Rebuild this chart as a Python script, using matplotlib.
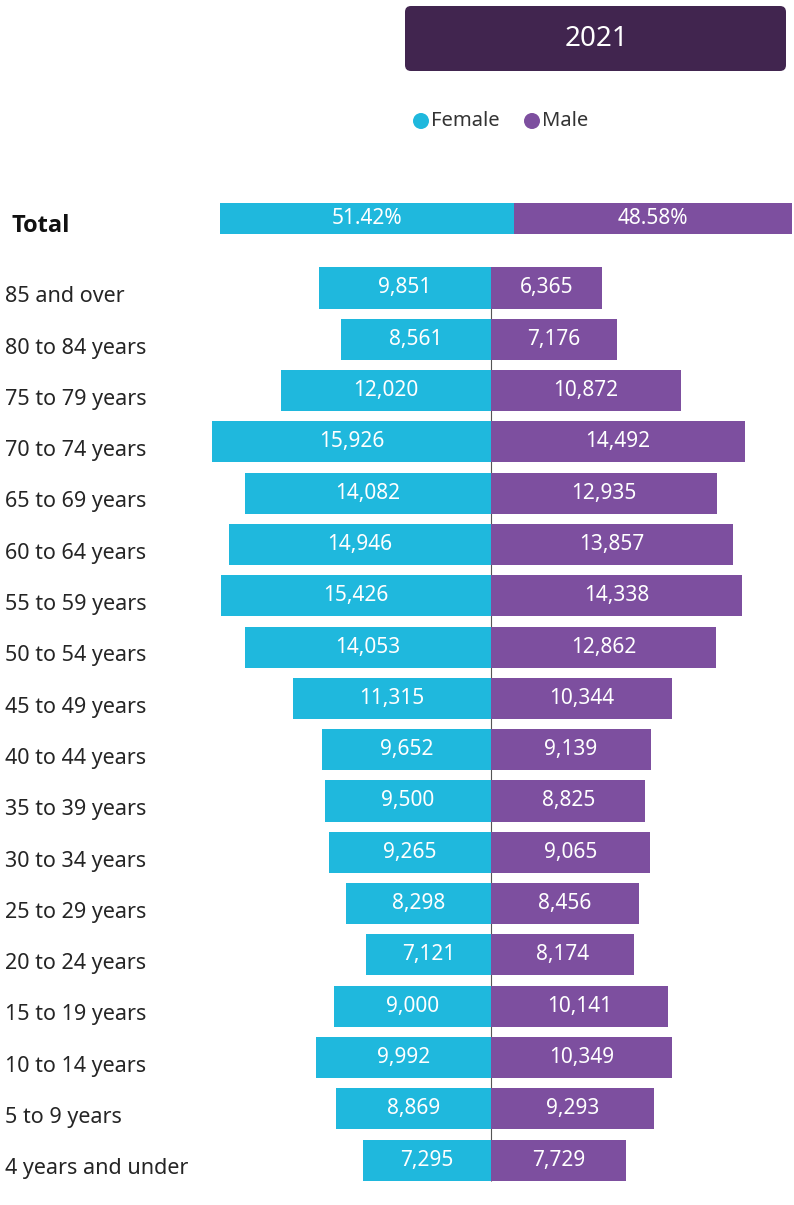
import matplotlib
matplotlib.use('Agg')
import matplotlib.pyplot as plt
from matplotlib.patches import FancyBboxPatch, Circle
import numpy as np

plt.rcParams['font.family'] = ['Noto Sans', 'DejaVu Sans']

groups = ['85 and over', '80 to 84 years', '75 to 79 years', '70 to 74 years',
          '65 to 69 years', '60 to 64 years', '55 to 59 years', '50 to 54 years',
          '45 to 49 years', '40 to 44 years', '35 to 39 years', '30 to 34 years',
          '25 to 29 years', '20 to 24 years', '15 to 19 years', '10 to 14 years',
          '5 to 9 years', '4 years and under']
female = [9851, 8561, 12020, 15926, 14082, 14946, 15426, 14053, 11315, 9652,
          9500, 9265, 8298, 7121, 9000, 9992, 8869, 7295]
male = [6365, 7176, 10872, 14492, 12935, 13857, 14338, 12862, 10344, 9139,
        8825, 9065, 8456, 8174, 10141, 10349, 9293, 7729]
year = '2021'

c_f = '#1fb8dd'
c_m = '#7d4f9f'
c_head = '#41254f'

W, H = 794, 1205
fig = plt.figure(figsize=(W / 100, H / 100), dpi=100)

def px_axes(x0, y0, x1, y1):
    # pixel box (top-left origin) -> figure axes
    return fig.add_axes([x0 / W, 1 - y1 / H, (x1 - x0) / W, (y1 - y0) / H])

# header box
hax = px_axes(0, 0, W, 100)
hax.set_xlim(0, W)
hax.set_ylim(100, 0)
hax.axis('off')
hax.add_patch(FancyBboxPatch((405, 6), 381, 65, boxstyle='round,pad=0,rounding_size=6',
                             fc=c_head, ec='none'))
hax.text(596, 39, year, color='white', fontsize=20, ha='center', va='center')

# legend
lax = px_axes(0, 100, W, 150)
lax.set_xlim(0, W)
lax.set_ylim(150, 100)
lax.set_aspect('equal')
lax.axis('off')
lax.add_patch(Circle((421, 121), 8, fc=c_f, ec='none'))
lax.text(431, 121, 'Female', fontsize=14.5, va='center', color='#333333')
lax.add_patch(Circle((532, 121), 8, fc=c_m, ec='none'))
lax.text(542, 121, 'Male', fontsize=14.5, va='center', color='#333333')

# total bar
tot_f = sum(female)
tot_m = sum(male)
pf = tot_f / (tot_f + tot_m) * 100
pm = tot_m / (tot_f + tot_m) * 100
tax = px_axes(220, 203, 792, 234)
tax.barh(0, pf, height=1, color=c_f)
tax.barh(0, pm, left=pf, height=1, color=c_m)
tax.set_xlim(0, 100)
tax.set_ylim(-0.5, 0.5)
tax.axis('off')
tax.text(pf / 2, 0, f'{pf:.2f}%', color='white', fontsize=15, ha='center', va='center')
tax.text(pf + pm / 2, 0, f'{pm:.2f}%', color='white', fontsize=15, ha='center', va='center')
fig.text(12 / W, 1 - 226 / H, 'Total', fontsize=17, fontweight='bold', va='center',
         color='#111111', family=['Open Sans', 'Lato', 'DejaVu Sans'])

# pyramid
row = 51.3
top_px, bot_px = 250, 1195
cx = 491
scale = 0.0175  # px per person
ax = px_axes(0, top_px, W, bot_px)
ax.set_xlim(-cx / scale, (W - cx) / scale)
ax.set_ylim(-(bot_px - 288) / row, -(top_px - 288) / row)
y = -np.arange(len(groups))
ax.vlines(0, y[-1] - 0.4, y[0] + 0.4, color='#555555', lw=0.8, zorder=0)
ax.barh(y, [-v for v in female], height=0.8, color=c_f, zorder=2)
ax.barh(y, male, height=0.8, color=c_m, zorder=2)
ax.axis('off')
for yi, g, f, m in zip(y, groups, female, male):
    ax.text(5 / W, yi - 0.17, g, transform=ax.get_yaxis_transform(),
            fontsize=15.5, va='center', ha='left', color='#252525')
    ax.text(-f / 2, yi, f'{f:,}', color='white', fontsize=15, ha='center', va='center', zorder=3)
    ax.text(m / 2, yi, f'{m:,}', color='white', fontsize=15, ha='center', va='center', zorder=3)

fig.savefig('out.png', dpi=100)
